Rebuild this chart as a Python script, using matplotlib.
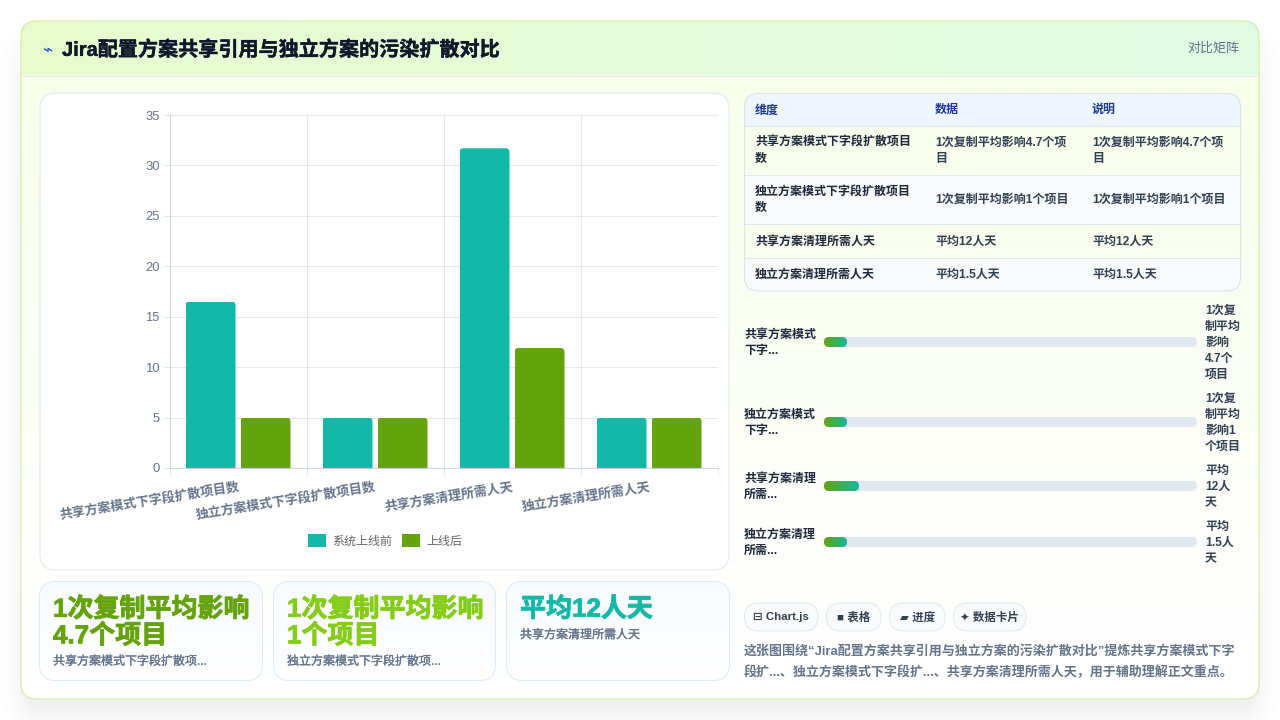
import numpy as np
import matplotlib
matplotlib.use("Agg")
import matplotlib.pyplot as plt
from matplotlib.patches import FancyBboxPatch, Rectangle
from matplotlib.colors import LinearSegmentedColormap
import matplotlib.patheffects as pe

plt.rcParams['font.family'] = ['Liberation Sans', 'Noto Sans CJK SC', 'DejaVu Sans']

# ---- chart data ----
categories = ['共享方案模式下字段扩散项目数', '独立方案模式下字段扩散项目数', '共享方案清理所需人天', '独立方案清理所需人天']
series_names = ['系统上线前', '上线后']
before_values = [16.5, 5, 31.7, 5]
after_values = [5, 5, 11.9, 5]
y_ticks = [0, 5, 10, 15, 20, 25, 30, 35]

# ---- table ----
table_header = ['维度', '数据', '说明']
table_rows = [
    (['共享方案模式下字段扩散项目', '数'], ['1次复制平均影响4.7个项', '目'], ['1次复制平均影响4.7个项', '目']),
    (['独立方案模式下字段扩散项目', '数'], ['1次复制平均影响1个项目'], ['1次复制平均影响1个项目']),
    (['共享方案清理所需人天'], ['平均12人天'], ['平均12人天']),
    (['独立方案清理所需人天'], ['平均1.5人天'], ['平均1.5人天']),
]

# ---- progress rows ----
progress_labels = [['共享方案模式', '下字...'], ['独立方案模式', '下字...'], ['共享方案清理', '所需...'], ['独立方案清理', '所需...']]
progress_pct = [6.2, 6.2, 9.4, 6.2]
progress_notes = [['1次复', '制平均', '影响', '4.7个', '项目'], ['1次复', '制平均', '影响1', '个项目'], ['平均', '12人', '天'], ['平均', '1.5人', '天']]

# ---- stat cards ----
card_values = [['1次复制平均影响', '4.7个项目'], ['1次复制平均影响', '1个项目'], ['平均12人天']]
card_notes = ['共享方案模式下字段扩散项...', '独立方案模式下字段扩散项...', '共享方案清理所需人天']
card_colors = ['#65a30d', '#84cc16', '#14b8a6']

chips = ['⊟ Chart.js', '■ 表格', '▰ 进度', '✦ 数据卡片']
title = 'Jira配置方案共享引用与独立方案的污染扩散对比'
summary = ['这张图围绕“Jira配置方案共享引用与独立方案的污染扩散对比”提炼共享方案模式下字',
           '段扩...、独立方案模式下字段扩...、共享方案清理所需人天，用于辅助理解正文重点。']

PX = 0.72  # one pixel in points at dpi 100

fig = plt.figure(figsize=(12.8, 7.2), dpi=100, facecolor='white')
ax = fig.add_axes([0, 0, 1, 1])
ax.set_axis_off()


def rbox(x0, y0, x1, y1, r, **kw):
    return FancyBboxPatch((x0, y0), x1 - x0, y1 - y0,
                          boxstyle=f'round,pad=0,rounding_size={r}', transform=ax.transData, **kw)


def gradient(x0, y0, x1, y1, c0, c1, horizontal=True, clip=None, zorder=1):
    cmap = LinearSegmentedColormap.from_list('g', [c0, c1])
    ramp = np.linspace(0, 1, 256)
    data = ramp[None, :] if horizontal else ramp[:, None]
    im = ax.imshow(data, extent=(x0, x1, y1, y0), aspect='auto', cmap=cmap, vmin=0, vmax=1,
                   zorder=zorder, interpolation='bilinear')
    if clip is not None:
        im.set_clip_path(clip)
    return im


def label(x, y, s, size, color, weight='bold', ha='left', zorder=6, heavy=0, **kw):
    t = ax.text(x, y + 0.8, s, fontsize=size * PX, color=color, fontweight=weight, ha=ha, va='center',
                zorder=zorder, **kw)
    if heavy:
        t.set_path_effects([pe.withStroke(linewidth=heavy, foreground=color)])
    return t


# soft drop shadow below the main card
yy, xx = np.mgrid[0:720, 0:1280]
cx, cy, hw, hh, rad = 640, 378, 616, 336, 16
dx = np.abs(xx + 0.5 - cx) - (hw - rad)
dy = np.abs(yy + 0.5 - cy) - (hh - rad)
sdf = np.hypot(np.maximum(dx, 0), np.maximum(dy, 0)) + np.minimum(np.maximum(dx, dy), 0) - rad
shade = 0.055 * np.clip(1 - (sdf + 6) / 36, 0, 1) ** 1.6
ax.imshow(1 - shade, extent=(0, 1280, 720, 0), aspect='auto', cmap='gray', vmin=0, vmax=1, zorder=0)

# main card with tinted body and header band
card = rbox(21, 21, 1259, 699, 16, facecolor='white', edgecolor='none', zorder=0.9)
ax.add_patch(card)
gradient(21, 21, 1259, 640, '#f7fee7', '#ffffff', horizontal=False, clip=card, zorder=1)
gradient(21, 21, 1259, 75, '#e8fbcf', '#dffbe3', clip=card, zorder=1.1)
ax.plot([21, 1259], [75.5, 75.5], color='#e2e8f0', lw=PX, zorder=1.2)
ax.add_patch(rbox(21, 21, 1259, 699, 16, facecolor='none', edgecolor='#d0ec96', lw=PX, zorder=1.3))

label(47, 49, '⌁', 17, '#1d4ed8', weight='normal', ha='center')
label(62, 49, title, 20.1, '#0f172a', heavy=0.3)
label(1239, 48, '对比矩阵', 13, '#64748b', weight='normal', ha='right')

# panel behind the bar chart
ax.add_patch(rbox(40, 93, 729, 570, 16, facecolor='white', edgecolor='#e2e8f0', lw=PX, zorder=2))

# table
table_box = rbox(744.5, 93.5, 1240.5, 291, 14, facecolor='none', edgecolor='none')
row_edges = [125.5, 174.5, 223.5, 257.5, 291]
gradient(744, 93, 1241, 126, '#eff6ff', '#eff6ff', clip=table_box, zorder=2)
for i in (1, 3):
    r = Rectangle((744, row_edges[i]), 497, row_edges[i + 1] - row_edges[i], facecolor='#f8fafc', edgecolor='none', zorder=2)
    ax.add_patch(r)
    r.set_clip_path(table_box)
for y in row_edges[:-1]:
    ax.plot([745, 1240], [y, y], color='#e2e8f0', lw=PX, zorder=2.5)
ax.add_patch(rbox(744.5, 93.5, 1240.5, 291, 14, facecolor='none', edgecolor='#dbe3ec', lw=1.1 * PX, zorder=3))
col_x = [755, 935, 1092]
for x, h in zip(col_x, table_header):
    label(x, 109.5, h, 12, '#1e3a8a')
for i, row in enumerate(table_rows):
    mid = (row_edges[i] + row_edges[i + 1]) / 2
    for j, (x, cell) in enumerate(zip(col_x, row)):
        for k, line in enumerate(cell):
            label(x, mid + (k - (len(cell) - 1) / 2) * 16, line, 12, '#1e293b' if j == 0 else '#334155')

# progress rows
track_x0, track_x1 = 824, 1197
bar_y = [342, 422, 486, 542]
for yc, lab, pct, note in zip(bar_y, progress_labels, progress_pct, progress_notes):
    ax.add_patch(rbox(track_x0, yc - 5, track_x1, yc + 5, 5, facecolor='#e2e8f0', edgecolor='none', zorder=2))
    xe = track_x0 + (track_x1 - track_x0) * pct / 100
    fill = rbox(track_x0, yc - 5, xe, yc + 5, 5, facecolor='none', edgecolor='none')
    gradient(track_x0, yc - 5, xe, yc + 5, '#65a30d', '#14b8a6', clip=fill, zorder=2.5)
    for k, line in enumerate(lab):
        label(744, yc + (k - 0.5) * 16, line, 12, '#1e293b')
    for k, line in enumerate(note):
        label(1205, yc + (k - (len(note) - 1) / 2) * 16, line, 12, '#334155')

# stat cards
card_x = [(39.5, 262.5), (273.5, 495.5), (506.5, 729.5)]
for (x0, x1), vals, note, col in zip(card_x, card_values, card_notes, card_colors):
    box = rbox(x0, 581.5, x1, 680.5, 16, facecolor='none', edgecolor='none')
    gradient(x0, 581, x1, 681, '#f8fbff', '#ffffff', horizontal=False, clip=box, zorder=2)
    ax.add_patch(rbox(x0, 581.5, x1, 680.5, 16, facecolor='none', edgecolor='#dbeafe', lw=PX, zorder=3))
    for k, line in enumerate(vals):
        label(x0 + 13.5, 608.5 + k * 26.4, line, 26, col, heavy=0.6)
    label(x0 + 13.5, 608 + (len(vals) - 1) * 26.4 + 26.5, note, 12, '#64748b', weight='normal', heavy=0.2)

# technology chips
chip_x = [(744.5, 818), (826.5, 881), (889.5, 945), (953.5, 1026)]
for (x0, x1), c in zip(chip_x, chips):
    ax.add_patch(rbox(x0, 603, x1, 631, 14, facecolor='#f8fafc', edgecolor='#e2e8f0', lw=PX, zorder=2))
    label((x0 + x1) / 2, 616.5, c, 11.5, '#334155', ha='center')

# summary text
for k, line in enumerate(summary):
    label(744, 650.5 + k * 21, line, 13, '#64748b')

ax.set_xlim(0, 1280)
ax.set_ylim(720, 0)

# grouped bar chart
left, right, top, bottom = 169.5, 717.5, 115, 468
chart = fig.add_axes([left / 1280, 1 - bottom / 720, (right - left) / 1280, (bottom - top) / 720])
chart.patch.set_alpha(0)
chart.set_xlim(0, len(categories))
chart.set_ylim(0, 35)
chart.set_axisbelow(True)
centers = np.arange(len(categories)) + 0.5
bw, gap = 50 / 137, 5 / 137
unit_y = 35 / (bottom - top)  # data units per pixel
unit_x = 4 / (right - left)
for vals, off, col, name in zip((before_values, after_values), (-(bw + gap) / 2, (bw + gap) / 2),
                                ('#14b8a6', '#65a30d'), series_names):
    bars = chart.bar(centers + off, vals, width=bw, color=col, label=name, zorder=3)
    for b in bars:
        # round only the top corners; the lower corners fall below the axis
        shape = FancyBboxPatch((b.get_x(), -1), b.get_width(), b.get_height() + 1,
                               boxstyle=f'round,pad=0,rounding_size={4 * unit_x}',
                               mutation_aspect=unit_y / unit_x, transform=chart.transData)
        b.set_clip_path(shape)

chart.set_yticks(y_ticks)
chart.set_xticks(np.arange(len(categories) + 1), minor=True)
chart.set_xticks(centers)
chart.set_xticklabels(categories, rotation=9, ha='right', rotation_mode='anchor',
                      fontsize=13 * PX, fontweight='bold', color='#64748b')
chart.set_yticklabels([str(v) for v in y_ticks], fontsize=13 * PX, color='#64748b')
chart.grid(True, axis='y', color='#e2e8f0', lw=PX)
chart.grid(True, axis='x', which='minor', color='#e2e8f0', lw=PX)
chart.tick_params(axis='y', length=5, width=PX, color='#e2e8f0', pad=2)
chart.tick_params(axis='x', which='major', length=0, pad=9)
chart.tick_params(axis='x', which='minor', length=5, width=PX, color='#e2e8f0')
for side in ('top', 'right'):
    chart.spines[side].set_visible(False)
for side in ('left', 'bottom'):
    chart.spines[side].set_color('#cbd5e1')
    chart.spines[side].set_linewidth(PX)
leg = chart.legend(loc='center', bbox_to_anchor=(385 / 1280, 1 - 541 / 720), bbox_transform=fig.transFigure,
                   ncol=2, frameon=False, fontsize=12 * PX, handlelength=1.5, handleheight=1.3,
                   handletextpad=0.5, columnspacing=0.85, borderpad=0)
for t in leg.get_texts():
    t.set_color('#666666')

fig.savefig('out.png', dpi=100)
